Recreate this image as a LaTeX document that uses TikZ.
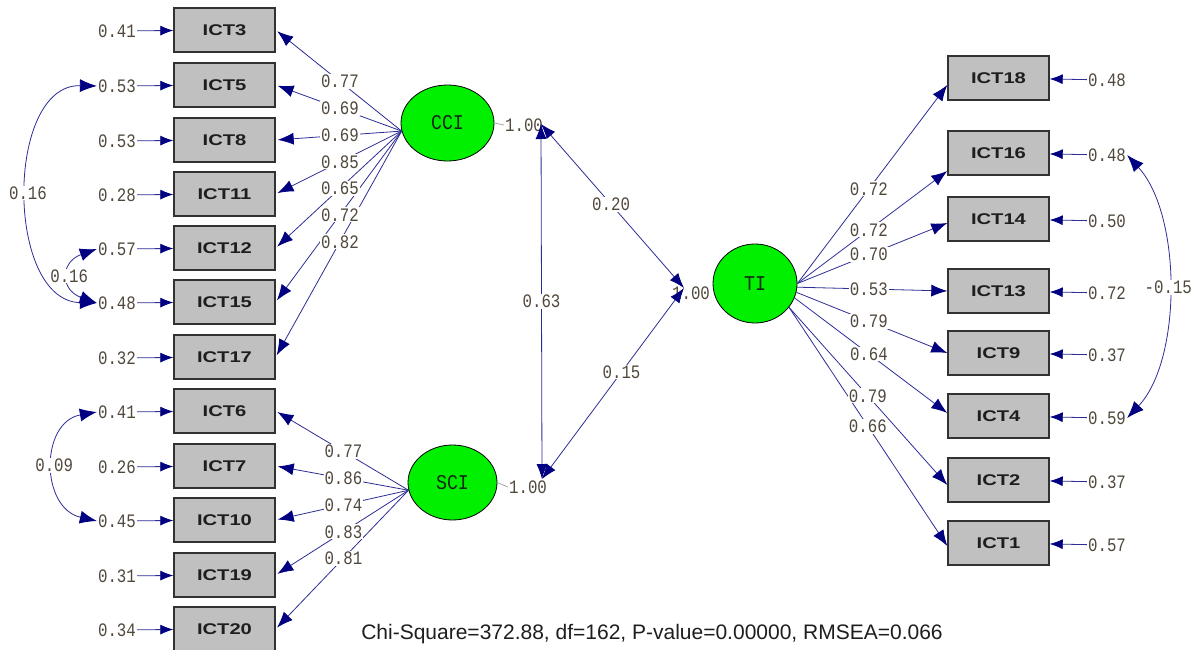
\documentclass[tikz,border=0pt]{standalone}
\usepackage{fontspec}
\setmainfont{Liberation Sans}
\newfontfamily\boxfont[FakeStretch=1.3]{Liberation Sans}
\newfontfamily\numfont[FakeStretch=0.83]{Liberation Mono}
\newfontfamily\latfont[FakeStretch=0.87]{Liberation Mono}
\usetikzlibrary{arrows.meta,calc,shapes.geometric}
\definecolor{nv}{RGB}{0,0,128}
\definecolor{ln}{RGB}{45,45,150}
\definecolor{lbc}{RGB}{80,72,60}
\definecolor{boxg}{RGB}{192,192,192}
\definecolor{boxb}{RGB}{50,50,50}
\definecolor{grn}{RGB}{0,240,0}
\definecolor{fitc}{RGB}{30,30,30}
\begin{document}
\begin{tikzpicture}[x=1pt,y=-1pt,
 obs/.style={draw=boxb, line width=1.4pt, fill=boxg, minimum width=101pt, minimum height=44pt, inner sep=0pt, text=fitc, font=\boxfont\bfseries\fontsize{15.5}{15.5}\selectfont},
 lat/.style={ellipse, draw=black, line width=0.8pt, fill=grn, inner sep=0pt, text={rgb,255:red,20;green,40;blue,20}, font=\latfont\fontsize{21}{21}\selectfont},
 num/.style={text=lbc, inner sep=1pt, font=\numfont\fontsize{19}{19}\selectfont},
 lab/.style={num, fill=white},
 loadL/.style={draw=ln, line width=0.8pt, -{Latex[length=16pt,width=12pt,color=nv]}, shorten >=2pt},
 loadR/.style={draw=ln, line width=0.8pt, -{Latex[length=16pt,width=12pt,color=nv]}},
 err/.style={draw=ln, line width=0.8pt, -{Latex[length=13pt,width=10pt,color=nv]}},
 cov/.style={draw=ln, line width=0.8pt, {Latex[length=15pt,width=11pt,color=nv]}-{Latex[length=15pt,width=11pt,color=nv]}},
 covc/.style={draw=ln, line width=0.8pt, {Latex[length=17pt,width=13pt,color=nv]}-{Latex[length=17pt,width=13pt,color=nv]}},
 tick/.style={draw=gray!70, line width=0.8pt},
]
\fill[white] (0,0) rectangle (1196,650);
\useasboundingbox (0,0) rectangle (1196,650);

% observed variables, left
\foreach \n/\y/\e in {ICT3/30/0.41, ICT5/85/0.53, ICT8/140/0.53, ICT11/194/0.28, ICT12/248/0.57, ICT15/302/0.48, ICT17/357/0.32, ICT6/411/0.41, ICT7/466/0.26, ICT10/520/0.45, ICT19/575/0.31, ICT20/629/0.34}{
  \node[obs] (\n) at (224.5,\y) {\n};
  \node[num] (e\n) at (117,\y+1) {\e};
  \draw[err] (e\n) -- (\n);
}
% observed variables, right
\foreach \n/\y/\e in {ICT18/78/0.48, ICT16/153/0.48, ICT14/219/0.50, ICT13/291/0.72, ICT9/353/0.37, ICT4/416/0.59, ICT2/480/0.37, ICT1/543/0.57}{
  \node[obs] (\n) at (998.5,\y) {\n};
  \node[num] (e\n) at (1107,\y+2) {\e};
  \draw[err] (e\n) -- (\n);
}

% latent variables
\node[lat, minimum width=93pt, minimum height=76pt] (CCI) at (447.5,123) {CCI};
\node[lat, minimum width=89pt, minimum height=75pt] (SCI) at (452.5,482.5) {SCI};
\node[lat, minimum width=84pt, minimum height=79pt] (TI) at (755,283.5) {TI};

\node[num] (vCCI) at (524,125) {1.00};
\node[num] (vSCI) at (528,487) {1.00};
\node[num] (vTI) at (691,293) {1.00};
\draw[tick] (CCI.east) -- (vCCI.west);
\draw[tick] (SCI.east) -- (vSCI.west);

% loadings
\foreach \t in {ICT3,ICT5,ICT8,ICT11,ICT12,ICT15,ICT17}{\draw[loadL] (CCI.190) -- (\t.east);}
\foreach \t in {ICT6,ICT7,ICT10,ICT19,ICT20}{\draw[loadL] (SCI.190) -- (\t.east);}
\foreach \t/\a/\o in {ICT18/0/7, ICT16/0/18, ICT14/0/4, ICT13/355/0, ICT9/348/0, ICT4/340/-3, ICT2/325/5, ICT1/325/3}{
  \draw[loadR] (TI.\a) -- ($(\t.west)+(0,\o)$);}

% covariances between factors
\coordinate (cA) at (541,124);
\coordinate (sA) at (542,479);
\coordinate (tA) at (684,288);
\draw[cov] (cA) -- (sA);
\draw[cov] (cA) -- (tA);
\draw[cov] (sA) -- (tA);

% error covariances
\draw[covc] (eICT5.west) .. controls (5,84) and (5,301) .. (eICT15.west);
\draw[covc] (eICT12.west) .. controls (60,262) and (60,290) .. (eICT15.west);
\draw[covc] (eICT6.west) .. controls (40,422) and (40,508) .. (eICT10.west);
\draw[covc] (eICT16.east) .. controls (1182,215) and (1182,360) .. (eICT4.east);

% labels (drawn on top)
\foreach \t/\v in {ICT3/0.77, ICT5/0.69, ICT8/0.69, ICT11/0.85, ICT12/0.65, ICT15/0.72, ICT17/0.82}{
  \path (CCI.190) -- node[lab,pos=0.49]{\v} (\t.east);}
\foreach \t/\v in {ICT6/0.77, ICT7/0.86, ICT10/0.74, ICT19/0.83, ICT20/0.81}{
  \path (SCI.190) -- node[lab,pos=0.49]{\v} (\t.east);}
\foreach \t/\a/\o/\v/\p in {ICT18/0/7/0.72/0.477, ICT16/0/18/0.72/0.477, ICT14/0/4/0.70/0.477, ICT13/355/0/0.53/0.477, ICT9/348/0/0.79/0.48, ICT4/340/-3/0.64/0.487, ICT2/325/5/0.79/0.498, ICT1/325/3/0.66/0.498}{
  \path (TI.\a) -- node[lab,pos=\p]{\v} ($(\t.west)+(0,\o)$);}
\path (cA) -- node[lab]{0.63} (sA);
\path (cA) -- node[lab,pos=0.49]{0.20} (tA);
\path (sA) -- node[lab,pos=0.56]{0.15} (tA);
\path (eICT5.west) .. controls (5,84) and (5,301) .. node[lab]{0.16} (eICT15.west);
\path (eICT12.west) .. controls (60,262) and (60,290) .. node[lab]{0.16} (eICT15.west);
\path (eICT6.west) .. controls (40,422) and (40,508) .. node[lab]{0.09} (eICT10.west);
\path (eICT16.east) .. controls (1182,215) and (1182,360) .. node[lab]{-0.15} (eICT4.east);

\node[text=fitc, font=\fontsize{21}{21}\selectfont] (fit) at (652,634) {Chi-Square=372.88, df=162, P-value=0.00000, RMSEA=0.066};
\end{tikzpicture}
\end{document}
